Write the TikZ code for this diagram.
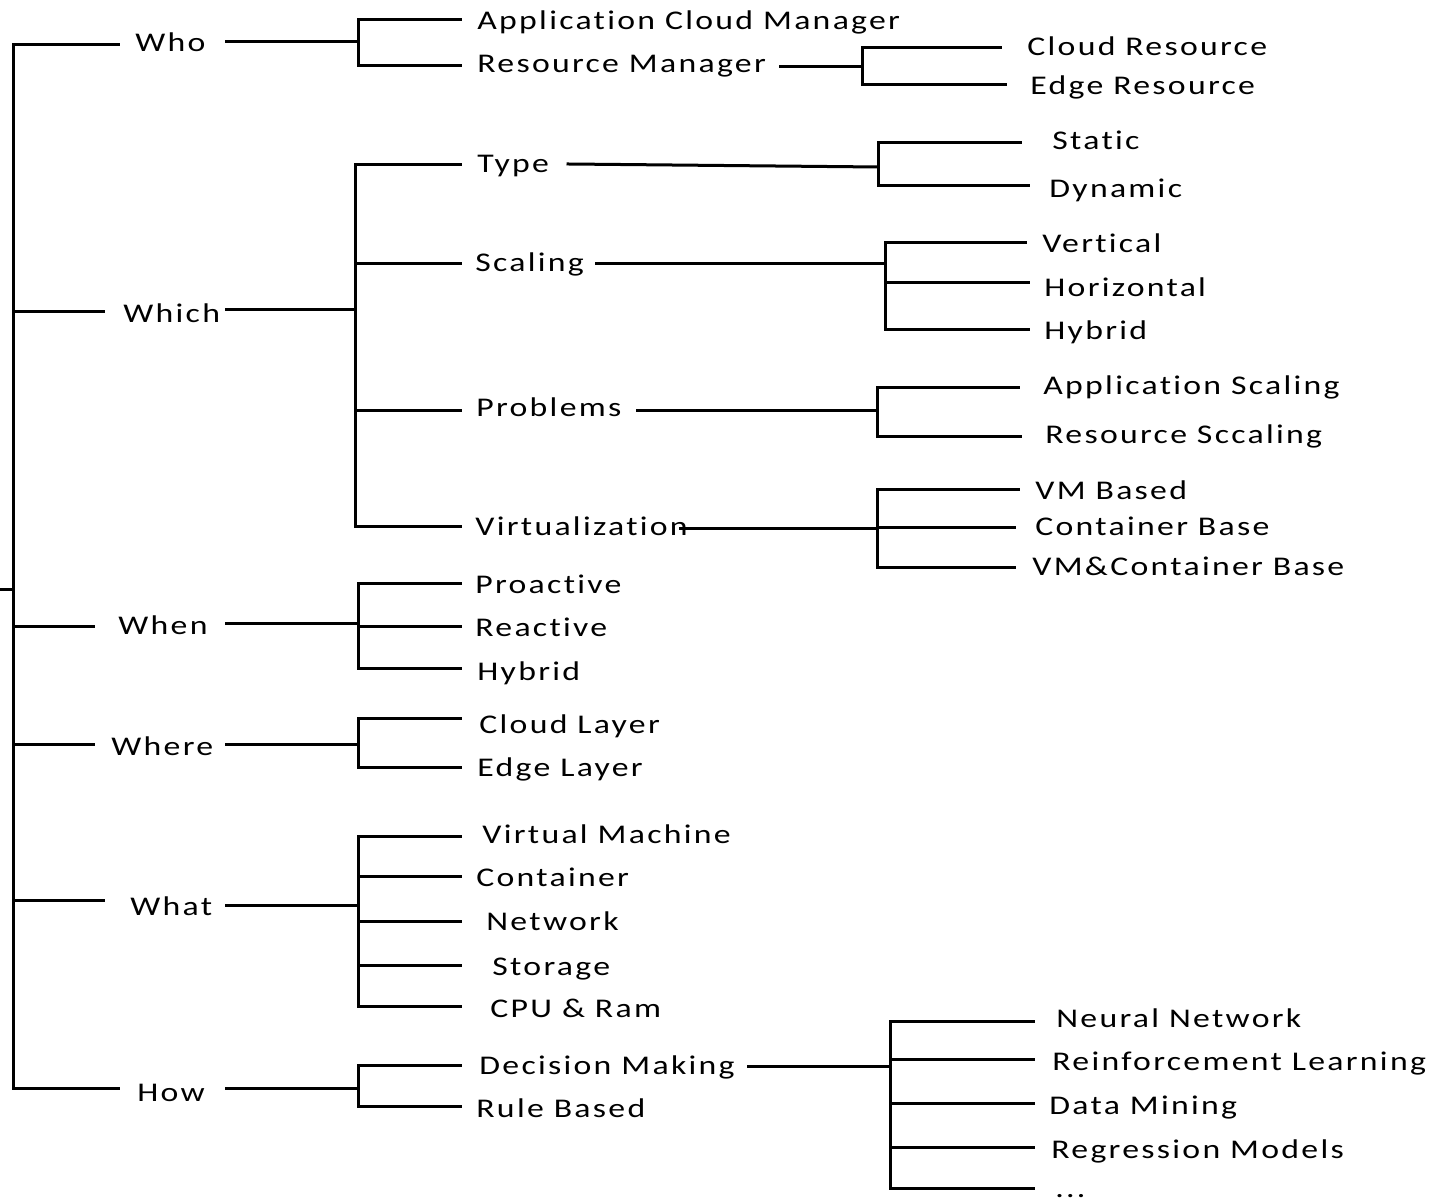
\documentclass[tikz,border=0pt]{standalone}
\usepackage{fontspec}
\setmainfont[FakeStretch=1.25,LetterSpace=8.5,Ligatures=NoCommon]{Carlito}
\begin{document}
\begin{tikzpicture}[x=0.5pt,y=-0.5pt,
  lbl/.style={anchor=west,inner sep=0pt,text height=0.644em,text depth=0pt,
              yshift=-1.5pt,font=\fontsize{13.5}{16}\selectfont},
  tree/.style={line width=1.5pt,line cap=rect}]
\clip (0,0) rectangle (1451,1202);
\fill[white] (0,0) rectangle (1451,1202);

% ---------- labels, first level ----------
\node[lbl] (who)   at (135,42)   {Who};
\node[lbl] (which) at (123,313)  {Which};
\node[lbl] (when)  at (118,625)  {When};
\node[lbl] (where) at (111,746)  {Where};
\node[lbl] (what)  at (130,906)  {What};
\node[lbl] (how)   at (137,1092) {How};

% ---------- second level ----------
\node[lbl] (acm)   at (477,20)   {Application Cloud Manager};
\node[lbl] (rm)    at (477,63)   {Resource Manager};
\node[lbl] (type)  at (477,163)  {Type};
\node[lbl] (scal)  at (475,262)  {Scaling};
\node[lbl] (prob)  at (476,407)  {Problems};
\node[lbl] (virt)  at (475,526)  {Virtualization};
\node[lbl] (proa)  at (475,584)  {Proactive};
\node[lbl] (reac)  at (475,627)  {Reactive};
\node[lbl] (hybw)  at (477,671)  {Hybrid};
\node[lbl] (cll)   at (479,724)  {Cloud Layer};
\node[lbl] (edl)   at (477,767)  {Edge Layer};
\node[lbl] (vmach) at (482,834)  {Virtual Machine};
\node[lbl] (cont)  at (476,877)  {Container};
\node[lbl] (netw)  at (486,921)  {Network};
\node[lbl] (stor)  at (492,966)  {Storage};
\node[lbl] (cpu)   at (490,1008) {CPU \& Ram};
\node[lbl] (dec)   at (479,1065) {Decision Making};
\node[lbl] (rule)  at (476,1108) {Rule Based};

% ---------- third level ----------
\node[lbl] (clr)   at (1027,46)  {Cloud Resource};
\node[lbl] (edr)   at (1030,85)  {Edge Resource};
\node[lbl] (stat)  at (1052,140) {Static};
\node[lbl] (dyn)   at (1049,188) {Dynamic};
\node[lbl] (vert)  at (1042,243) {Vertical};
\node[lbl] (horz)  at (1044,287) {Horizontal};
\node[lbl] (hybs)  at (1044,330) {Hybrid};
\node[lbl] (appsc) at (1043,385) {Application Scaling};
\node[lbl] (ressc) at (1045,434) {Resource Sccaling};
\node[lbl] (vmb)   at (1035,490) {VM Based};
\node[lbl] (conb)  at (1035,526) {Container Base};
\node[lbl] (vmcb)  at (1032,566) {VM\&Container Base};
\node[lbl] (nn)    at (1056,1018) {Neural Network};
\node[lbl] (rl)    at (1052,1061) {Reinforcement Learning};
\node[lbl] (dm)    at (1049,1105) {Data Mining};
\node[lbl] (regm)  at (1051,1149) {Regression Models};
\node[lbl] (more)  at (1055,1188) {...};

% ---------- trunk ----------
\coordinate (root) at (0,590);
\coordinate (trT)  at (13,45);
\coordinate (trB)  at (13,1088);
\draw[tree] (trT) -- (trB);
\draw[tree] (root) -- (13,590);
\draw[tree] (trT) -- (118,45);
\draw[tree] (13,312) -- (103,312);
\draw[tree] (13,627) -- (93,627);
\draw[tree] (13,745) -- (93,745);
\draw[tree] (13,900) -- (103,900);
\draw[tree] (trB) -- (118,1088);

% ---------- Who ----------
\draw[tree] (226,42) -- (358,42);
\draw[tree] (358,20) -- (358,66);
\draw[tree] (358,20) -- (460,20);
\draw[tree] (358,66) -- (460,66);
\draw[tree] (780,67) -- (862,67);
\draw[tree] (862,48) -- (862,85);
\draw[tree] (862,48) -- (1000,48);
\draw[tree] (862,85) -- (1005,85);

% ---------- Which ----------
\draw[tree] (226,310) -- (355,310);
\draw[tree] (355,165) -- (355,527);
\foreach \y in {165,264,411,527} \draw[tree] (355,\y) -- (460,\y);
% type
\draw[tree] (568,164) -- (878,167);
\draw[tree] (878,143) -- (878,186);
\draw[tree] (878,143) -- (1020,143);
\draw[tree] (878,186) -- (1028,186);
% scaling
\draw[tree] (596,264) -- (885,264);
\draw[tree] (885,243) -- (885,330);
\draw[tree] (885,243) -- (1025,243);
\draw[tree] (885,283) -- (1028,283);
\draw[tree] (885,330) -- (1028,330);
% problems
\draw[tree] (637,411) -- (877,411);
\draw[tree] (877,388) -- (877,437);
\draw[tree] (877,388) -- (1018,388);
\draw[tree] (877,437) -- (1020,437);
% virtualization
\draw[tree] (680,529) -- (877,529);
\draw[tree] (877,490) -- (877,568);
\draw[tree] (877,490) -- (1018,490);
\draw[tree] (877,528) -- (1014,528);
\draw[tree] (877,568) -- (1014,568);

% ---------- When ----------
\draw[tree] (226,624) -- (358,624);
\draw[tree] (358,584) -- (358,669);
\foreach \y in {584,627,669} \draw[tree] (358,\y) -- (460,\y);

% ---------- Where ----------
\draw[tree] (226,745) -- (358,745);
\draw[tree] (358,719) -- (358,768);
\foreach \y in {719,768} \draw[tree] (358,\y) -- (460,\y);

% ---------- What ----------
\draw[tree] (226,905) -- (358,905);
\draw[tree] (358,836) -- (358,1006);
\foreach \y in {836,876,921,965,1006} \draw[tree] (358,\y) -- (460,\y);

% ---------- How ----------
\draw[tree] (226,1088) -- (358,1088);
\draw[tree] (358,1065) -- (358,1106);
\foreach \y in {1065,1106} \draw[tree] (358,\y) -- (460,\y);
\draw[tree] (748,1066) -- (890,1066);
\draw[tree] (890,1021) -- (890,1188);
\foreach \y in {1021,1059,1103,1147,1188} \draw[tree] (890,\y) -- (1033,\y);
\end{tikzpicture}
\end{document}
